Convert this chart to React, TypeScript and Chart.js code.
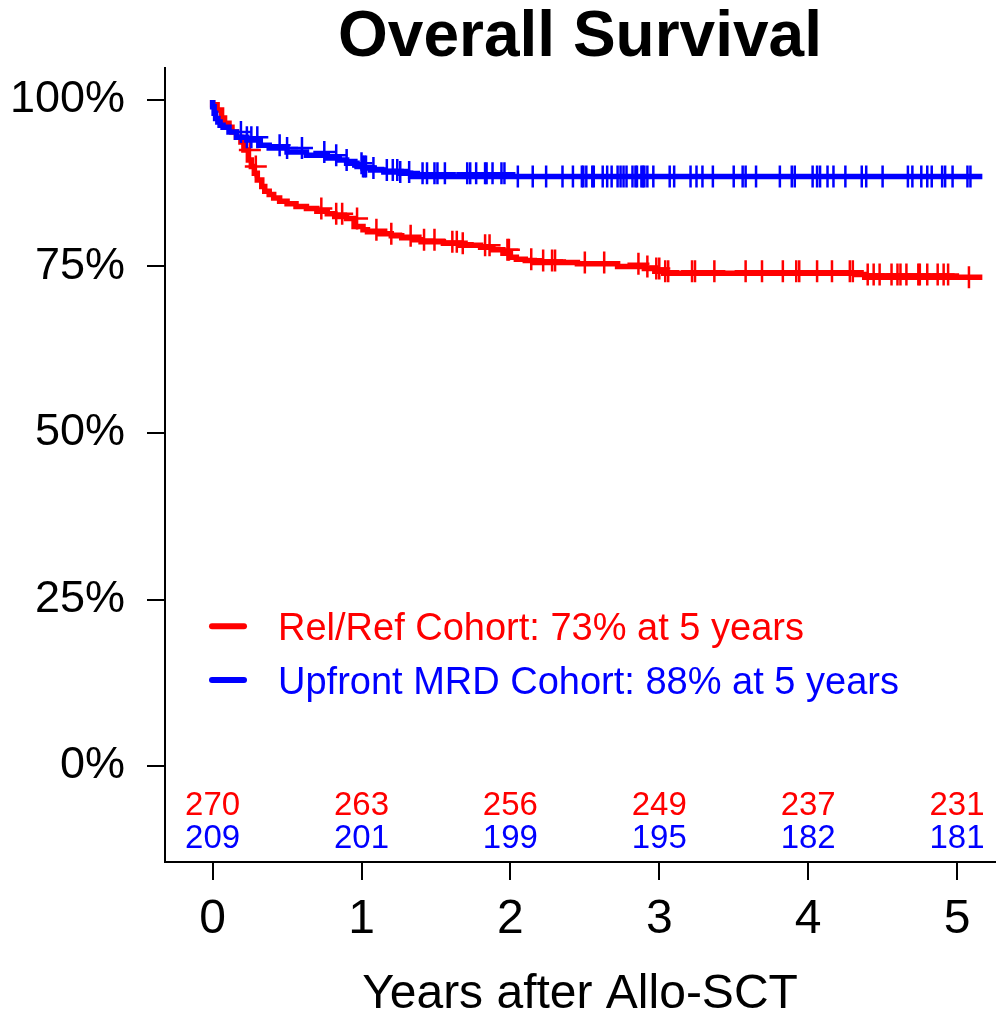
import React, { useEffect, useRef } from "react";
import { Chart, registerables } from "chart.js";

Chart.register(...registerables);

const FONT = '"Liberation Sans", Arial, Helvetica, sans-serif';
const RED = "#FF0000";
const BLUE = "#0000FF";

// Kaplan-Meier step data (years, % surviving)
const relTimes = [0, 0.03, 0.06, 0.08, 0.11, 0.13, 0.16, 0.19, 0.21, 0.24, 0.26, 0.28, 0.30, 0.33, 0.35, 0.38, 0.41, 0.45, 0.50, 0.56, 0.63, 0.70, 0.77, 0.82, 0.90, 0.95, 1.01, 1.04, 1.12, 1.20, 1.27, 1.35, 1.40, 1.55, 1.66, 1.80, 1.88, 1.95, 2.00, 2.04, 2.10, 2.16, 2.45, 2.72, 2.90, 2.97, 3.03, 4.32, 4.38, 4.95, 5.17];
const relSurv = [100, 99.3, 98.5, 97.3, 96.5, 95.9, 95.2, 94.4, 93.7, 92.5, 91.0, 90.0, 89.0, 88.0, 87.0, 86.3, 85.8, 85.3, 84.8, 84.4, 84.0, 83.7, 83.3, 82.9, 82.5, 82.2, 81.0, 80.5, 80.2, 79.9, 79.6, 79.3, 79.0, 78.7, 78.5, 78.2, 77.9, 77.5, 77.0, 76.4, 76.1, 75.9, 75.6, 75.4, 75.0, 74.7, 74.3, 74.0, 73.8, 73.4, 73.4];
const relCensor = [0.25, 0.29, 0.73, 0.83, 0.87, 0.97, 1.10, 1.20, 1.33, 1.42, 1.49, 1.61, 1.64, 1.68, 1.83, 1.86, 1.98, 1.99, 2.14, 2.22, 2.28, 2.30, 2.50, 2.63, 2.86, 2.92, 2.98, 3.00, 3.04, 3.06, 3.22, 3.24, 3.37, 3.58, 3.69, 3.83, 3.92, 3.94, 4.06, 4.16, 4.28, 4.30, 4.40, 4.44, 4.48, 4.56, 4.60, 4.62, 4.66, 4.74, 4.75, 4.80, 4.87, 4.91, 4.94, 5.08];

const mrdTimes = [0, 0.01, 0.02, 0.035, 0.05, 0.07, 0.11, 0.16, 0.23, 0.32, 0.38, 0.50, 0.63, 0.77, 0.85, 0.90, 0.97, 1.01, 1.06, 1.15, 1.26, 1.33, 2.02, 5.17];
const mrdSurv = [100, 99.0, 98.0, 97.2, 96.7, 96.2, 95.9, 95.2, 94.4, 94.0, 93.2, 92.8, 92.2, 91.7, 91.3, 91.0, 90.5, 90.0, 89.8, 89.5, 89.2, 89.0, 88.5, 88.5];
const mrdCensor = [0.19, 0.23, 0.26, 0.30, 0.45, 0.50, 0.60, 0.75, 0.83, 0.90, 1.00, 1.01, 1.02, 1.03, 1.08, 1.17, 1.21, 1.24, 1.26, 1.32, 1.41, 1.44, 1.49, 1.51, 1.56, 1.71, 1.73, 1.77, 1.83, 1.84, 1.88, 1.94, 1.96, 2.05, 2.15, 2.24, 2.35, 2.42, 2.48, 2.49, 2.51, 2.55, 2.56, 2.62, 2.65, 2.68, 2.72, 2.74, 2.76, 2.78, 2.82, 2.84, 2.85, 2.88, 2.89, 2.90, 2.92, 2.96, 3.07, 3.10, 3.21, 3.25, 3.29, 3.36, 3.50, 3.56, 3.58, 3.65, 3.81, 3.89, 3.91, 4.03, 4.06, 4.08, 4.13, 4.17, 4.25, 4.36, 4.39, 4.50, 4.67, 4.70, 4.76, 4.80, 4.83, 4.90, 4.92, 4.97, 5.07, 5.09];

// Axis ticks
const xTicks = [0, 1, 2, 3, 4, 5];
const yTicks = [0, 25, 50, 75, 100];

// Numbers at risk
const riskTimes = [0, 1, 2, 3, 4, 5];
const riskRel = [270, 263, 256, 249, 237, 231];
const riskMrd = [209, 201, 199, 195, 182, 181];

const labelRel = "Rel/Ref Cohort: 73% at 5 years";
const labelMrd = "Upfront MRD Cohort: 88% at 5 years";

function stepAt(times: number[], surv: number[], t: number) {
  let v = surv[0];
  for (let i = 0; i < times.length; i++) {
    if (times[i] <= t) v = surv[i];
  }
  return v;
}

const overlayPlugin = {
  id: "overlay",
  afterDatasetsDraw(chart: any) {
    const { ctx, scales } = chart;
    const x = scales.x;
    const y = scales.y;
    ctx.save();
    // numbers at risk
    ctx.font = `33px ${FONT}`;
    ctx.textAlign = "center";
    ctx.textBaseline = "middle";
    riskTimes.forEach((t, i) => {
      const px = x.getPixelForValue(t);
      ctx.fillStyle = RED;
      ctx.fillText(String(riskRel[i]), px, y.getPixelForValue(-5.95));
      ctx.fillStyle = BLUE;
      ctx.fillText(String(riskMrd[i]), px, y.getPixelForValue(-10.96));
    });
    // legend
    const left = chart.chartArea.left;
    const rows = [
      { label: labelRel, color: RED, v: 21.0 },
      { label: labelMrd, color: BLUE, v: 12.9 },
    ];
    ctx.textAlign = "left";
    ctx.font = `38px ${FONT}`;
    rows.forEach((r) => {
      const py = y.getPixelForValue(r.v);
      ctx.strokeStyle = r.color;
      ctx.lineWidth = 6;
      ctx.lineCap = "round";
      ctx.beginPath();
      ctx.moveTo(left + 47, py);
      ctx.lineTo(left + 79, py);
      ctx.stroke();
      ctx.fillStyle = r.color;
      ctx.fillText(r.label, left + 113, py + 3);
    });
    ctx.restore();
  },
};

export default function App() {
  const ref = useRef<HTMLCanvasElement | null>(null);

  useEffect(() => {
    document.body.style.margin = "0";
    document.body.style.overflow = "hidden";
    const canvas = ref.current;
    if (!canvas) return;

    const relLine = relTimes.map((t, i) => ({ x: t, y: relSurv[i] }));
    const mrdLine = mrdTimes.map((t, i) => ({ x: t, y: mrdSurv[i] }));
    const relMarks = relCensor.map((t) => ({ x: t, y: stepAt(relTimes, relSurv, t) }));
    const mrdMarks = mrdCensor.map((t) => ({ x: t, y: stepAt(mrdTimes, mrdSurv, t) }));

    const chart = new Chart(canvas, {
      type: "line",
      data: {
        datasets: [
          {
            type: "scatter",
            label: "mrd censor",
            data: mrdMarks,
            showLine: false,
            pointStyle: "cross",
            pointRadius: 11,
            pointBorderWidth: 2.5,
            borderColor: BLUE,
            backgroundColor: BLUE,
          } as any,
          {
            type: "line",
            label: labelMrd,
            data: mrdLine,
            stepped: "after",
            borderColor: BLUE,
            borderWidth: 5.5,
            pointRadius: 0,
            fill: false,
          },
          {
            type: "scatter",
            label: "rel censor",
            data: relMarks,
            showLine: false,
            pointStyle: "cross",
            pointRadius: 11,
            pointBorderWidth: 2.5,
            borderColor: RED,
            backgroundColor: RED,
          } as any,
          {
            type: "line",
            label: labelRel,
            data: relLine,
            stepped: "after",
            borderColor: RED,
            borderWidth: 5.5,
            pointRadius: 0,
            fill: false,
          },
        ],
      },
      options: {
        responsive: false,
        animation: false,
        devicePixelRatio: 1,
        layout: { autoPadding: false, padding: { left: 0, right: 2, top: 0, bottom: 0 } },
        plugins: {
          legend: { display: false },
          tooltip: { enabled: false },
          title: {
            display: true,
            text: "Overall Survival",
            color: "#000",
            fullSize: false,
            font: { family: FONT, size: 64, weight: "bold", lineHeight: 0.9 },
            padding: { top: 10, bottom: 0.4 },
          },
        },
        scales: {
          x: {
            type: "linear",
            min: -0.32,
            max: 5.255,
            afterBuildTicks: (s: any) => {
              s.ticks = xTicks.map((v) => ({ value: v }));
            },
            afterFit: (s: any) => {
              s.height = 157;
              s.paddingLeft = 0;
              s.paddingRight = 0;
            },
            grid: {
              display: true,
              drawOnChartArea: false,
              drawTicks: true,
              tickLength: 18,
              color: "#000",
              lineWidth: 2,
            },
            border: { display: true, color: "#000", width: 2 },
            ticks: {
              color: "#000",
              padding: 11,
              font: { family: FONT, size: 48 },
              maxRotation: 0,
              autoSkip: false,
              callback: (v: any) => String(v),
            },
            title: {
              display: true,
              text: "Years after Allo-SCT",
              color: "#000",
              font: { family: FONT, size: 48, lineHeight: 1 },
              padding: { top: 0, bottom: 0 },
            },
          },
          y: {
            type: "linear",
            min: -14.41,
            max: 104.8,
            afterBuildTicks: (s: any) => {
              s.ticks = yTicks.map((v) => ({ value: v }));
            },
            afterFit: (s: any) => {
              s.width = 165;
              s.paddingTop = 0;
              s.paddingBottom = 0;
            },
            grid: {
              display: true,
              drawOnChartArea: false,
              drawTicks: true,
              tickLength: 18,
              color: "#000",
              lineWidth: 2,
            },
            border: { display: true, color: "#000", width: 2 },
            ticks: {
              color: "#000",
              padding: 22,
              font: { family: FONT, size: 45 },
              autoSkip: false,
              callback: (v: any) => `${v}%`,
            },
          },
        },
      },
      plugins: [overlayPlugin],
    } as any);

    return () => chart.destroy();
  }, []);

  return (
    <div style={{ position: "absolute", left: 0, top: 0, width: 997, height: 1019 }}>
      <canvas ref={ref} width={997} height={1019} />
    </div>
  );
}
